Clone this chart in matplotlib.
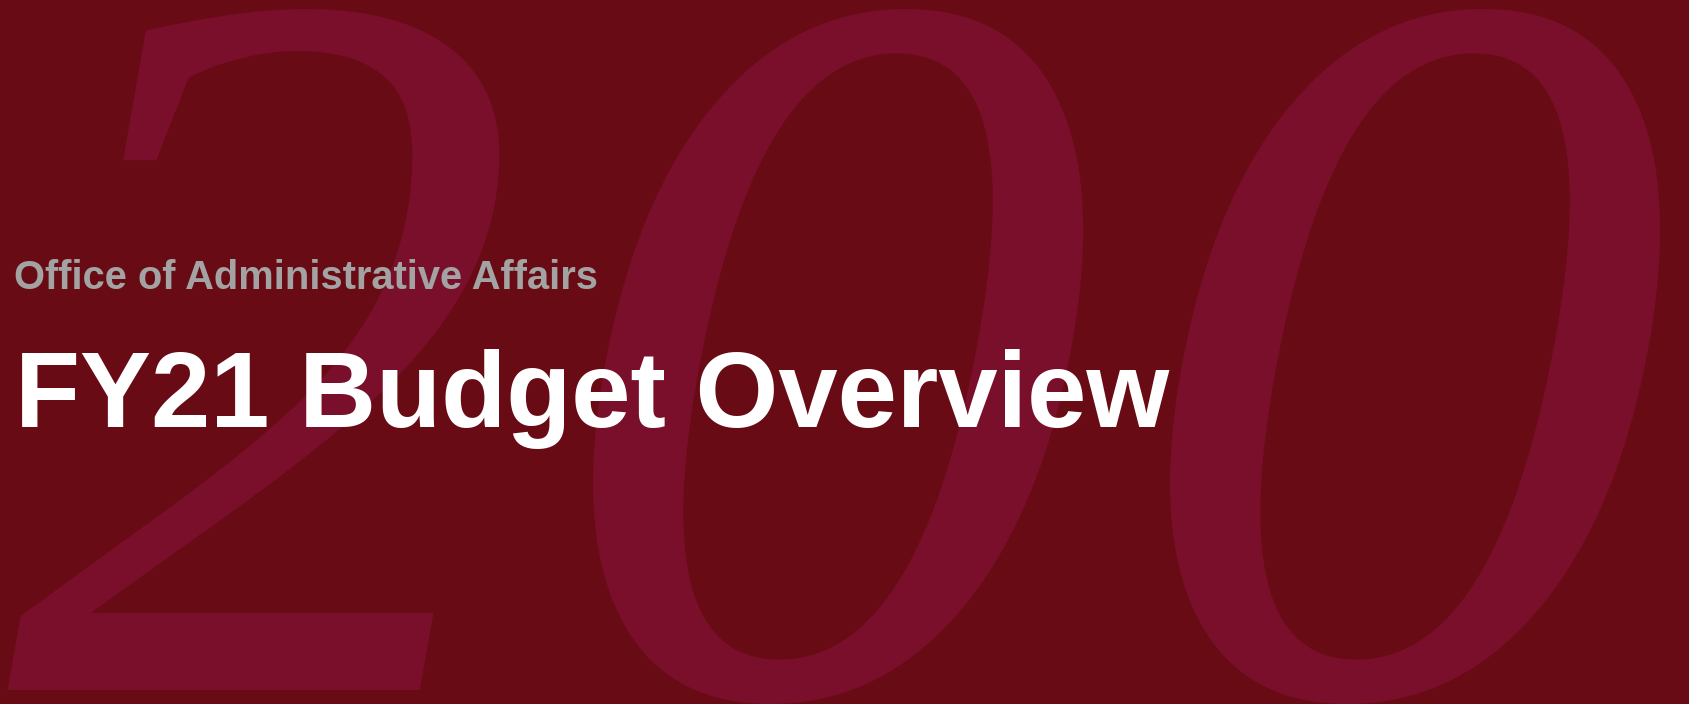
import matplotlib
matplotlib.use("Agg")
import matplotlib.pyplot as plt
from matplotlib.textpath import TextPath
from matplotlib.font_manager import FontProperties

# ---- content ----
subtitle = "Office of Administrative Affairs"
title = "FY21 Budget Overview"
bg_digits = ["2", "0", "0"]

# ---- style ----
W, H, DPI = 1690, 704, 100
BG = "#690B15"
GLYPH = "#7A0F2B"
GRAY = "#A3A3A3"
WHITE = "#FFFFFF"

serif_two = FontProperties(family="Liberation Serif", style="italic")
serif_zero = FontProperties(family="DejaVu Serif", style="italic")
sans_b = FontProperties(family="Liberation Sans", weight="bold")

fig = plt.figure(figsize=(W / DPI, H / DPI), dpi=DPI)
fig.patch.set_facecolor(BG)


def ink(s, prop):
    p = TextPath((0, 0), s, size=1, prop=prop)
    return p.get_extents()


def place(s, prop, size_px, left_px, baseline_px_top, color, z):
    e = ink(s, prop)
    x0 = left_px - e.x0 * size_px
    yb = (H - baseline_px_top)
    fig.text(x0 / W, yb / H, s, fontproperties=prop, fontsize=size_px * 72 / DPI,
             color=color, ha="left", va="baseline", zorder=z)


# background "2": ink from top 8 to bottom 690, width 7..523
e2 = ink("2", serif_two)
S2 = (690 - 8) / e2.height
place(bg_digits[0], serif_two, S2, 7, 690 + e2.y0 * S2, GLYPH, 1)

# background "0"s: top at 9, overshooting bottom edge
ez_ref = ink("2", serif_zero)
S0 = (690 - 8) / ez_ref.height
ez = ink("0", serif_zero)
base0 = 9 + ez.y1 * S0
for d, lx in zip(bg_digits[1:], [592, 1169]):
    place(d, serif_zero, S0, lx, base0, GLYPH, 1)

# subtitle: 16..598 wide, baseline 289
es = ink(subtitle, sans_b)
S_sub = (598 - 16) / es.width
place(subtitle, sans_b, S_sub, 16, 289, GRAY, 5)

# title: 22..1170 wide, baseline 427
et = ink(title, sans_b)
S_tit = (1170 - 22) / et.width
place(title, sans_b, S_tit, 22, 427, WHITE, 5)

fig.savefig("out.png", dpi=DPI, facecolor=BG)
